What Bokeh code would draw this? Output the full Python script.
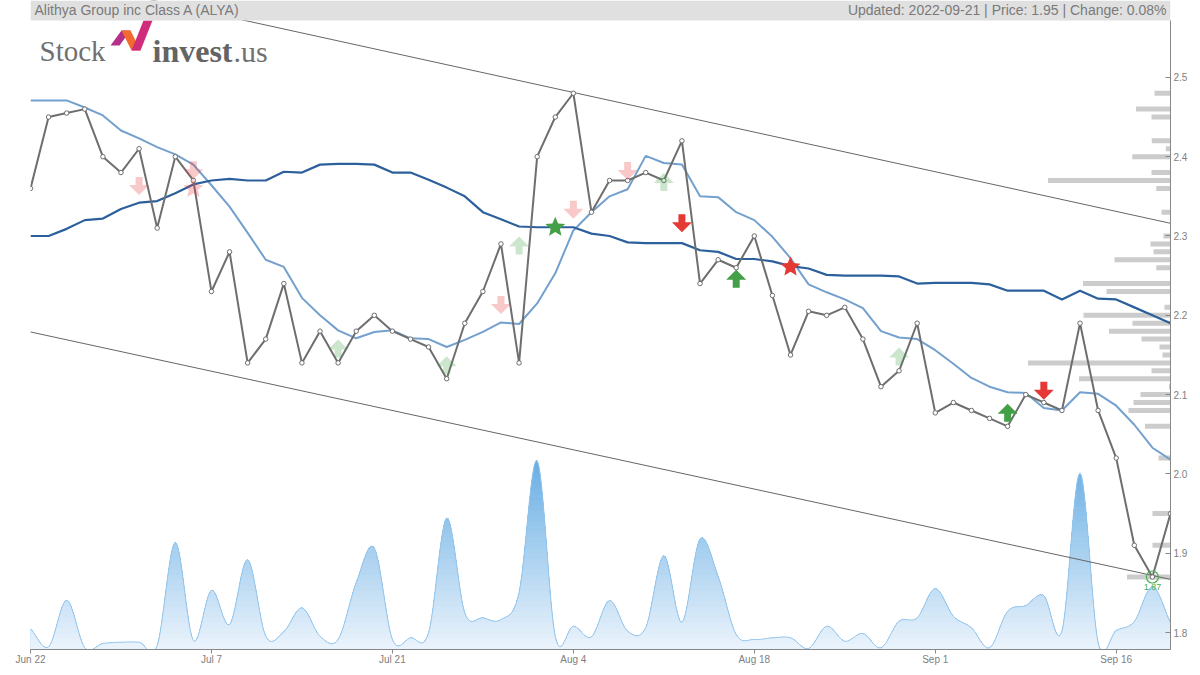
import numpy as np
from bokeh.plotting import figure
from bokeh.models import Range1d, FixedTicker, BoxAnnotation, Label
from bokeh.embed import file_html
from bokeh.resources import INLINE

# ---------------- data ----------------
title_left = "Alithya Group inc Class A (ALYA)"
title_right = "Updated: 2022-09-21 | Price: 1.95 | Change: 0.08%"

x_tick_index = [0, 10, 20, 30, 40, 50, 60]
x_tick_labels = ["Jun 22", "Jul 7", "Jul 21", "Aug 4", "Aug 18", "Sep 1", "Sep 16"]
y_ticks = [1.8, 1.9, 2.0, 2.1, 2.2, 2.3, 2.4, 2.5]
y_tick_labels = ["1.8", "1.9", "2.0", "2.1", "2.2", "2.3", "2.4", "2.5"]

price = [2.36, 2.45, 2.455, 2.46, 2.40, 2.38, 2.41, 2.31, 2.40, 2.37,
         2.23, 2.28, 2.14, 2.17, 2.24, 2.14, 2.18, 2.14, 2.18, 2.20,
         2.18, 2.17, 2.16, 2.12, 2.19, 2.23, 2.29, 2.14, 2.40, 2.45,
         2.48, 2.33, 2.37, 2.37, 2.38, 2.37, 2.42, 2.24, 2.27, 2.26,
         2.30, 2.225, 2.15, 2.205, 2.20, 2.21, 2.17, 2.11, 2.13, 2.19,
         2.077, 2.09, 2.08, 2.07, 2.06, 2.10, 2.09, 2.08, 2.19, 2.08,
         2.02, 1.91, 1.87, 1.95]

ma_short = [2.471, 2.471, 2.471, 2.462, 2.452, 2.433, 2.423, 2.412, 2.403, 2.390,
            2.364, 2.337, 2.304, 2.270, 2.261, 2.222, 2.200, 2.181, 2.171, 2.179,
            2.181, 2.171, 2.170, 2.160, 2.169, 2.179, 2.191, 2.189, 2.215, 2.253,
            2.307, 2.330, 2.350, 2.359, 2.401, 2.392, 2.390, 2.350, 2.349, 2.330,
            2.320, 2.299, 2.272, 2.239, 2.229, 2.220, 2.209, 2.180, 2.172, 2.170,
            2.156, 2.139, 2.121, 2.110, 2.103, 2.102, 2.083, 2.080, 2.103, 2.101,
            2.086, 2.062, 2.033, 2.018]

ma_long = [2.300, 2.300, 2.309, 2.320, 2.322, 2.334, 2.342, 2.344, 2.354, 2.365,
           2.370, 2.372, 2.370, 2.370, 2.381, 2.380, 2.390, 2.391, 2.391, 2.390,
           2.380, 2.380, 2.371, 2.361, 2.350, 2.330, 2.321, 2.312, 2.311, 2.311,
           2.311, 2.303, 2.300, 2.292, 2.291, 2.291, 2.291, 2.282, 2.280, 2.271,
           2.271, 2.268, 2.262, 2.259, 2.251, 2.250, 2.250, 2.250, 2.249, 2.240,
           2.241, 2.241, 2.241, 2.239, 2.231, 2.231, 2.231, 2.220, 2.231, 2.221,
           2.220, 2.210, 2.200, 2.190]

volume = [20.7, 2.7, 49.3, 1.7, 6.0, 7.3, 7.3, 4.0, 107.3, 9.0,
          59.3, 25.0, 90.0, 13.3, 17.7, 41.7, 13.3, 10.0, 67.0, 101.7,
          10.0, 11.7, 16.7, 131.7, 36.7, 31.7, 30.0, 57.0, 189.3, 13.0,
          23.3, 12.7, 49.0, 18.3, 22.0, 94.0, 27.3, 110.7, 73.3, 15.0,
          10.0, 11.7, 11.7, 1.0, 23.3, 8.3, 16.0, 1.7, 28.3, 31.7,
          61.0, 33.3, 21.7, 1.7, 38.3, 44.0, 54.0, 18.3, 176.7, 6.7,
          19.0, 28.0, 63.0, 26.7]

profile_price = [2.48, 2.46, 2.45, 2.42, 2.41, 2.40, 2.38, 2.37, 2.36, 2.33,
                 2.30, 2.29, 2.28, 2.27, 2.26, 2.24, 2.23, 2.21, 2.20, 2.19,
                 2.18, 2.17, 2.16, 2.15, 2.14, 2.13, 2.12, 2.11, 2.10, 2.09,
                 2.08, 2.06, 2.02, 1.95, 1.91, 1.87]
profile_volume = [16, 34.5, 19, 18.7, 4.7, 38.3, 19, 122.5, 14.3, 9,
                  7, 20, 17, 56, 14.3, 87.5, 64, 6, 87, 38,
                  61.5, 29, 11, 8, 142.5, 19, 91.5, 1.5, 30, 37,
                  42, 25.5, 12, 18, 18, 43.5]

trend_index = [0, 63]
trend_upper = [2.631, 2.316]
trend_lower = [2.179, 1.867]

signal_index = [6, 9, 9, 17, 23, 26, 27, 29, 30, 33, 35, 36, 39, 42, 48, 54, 56]
signal_price = [2.363, 2.383, 2.360, 2.158, 2.137, 2.213, 2.288, 2.311, 2.333, 2.382,
                2.368, 2.316, 2.246, 2.261, 2.148, 2.077, 2.105]
signal_type = ["sell", "sell", "star_sell", "buy", "buy", "sell", "buy", "star_buy", "sell", "sell",
               "buy", "sell", "buy", "star_sell", "buy", "buy", "sell"]
signal_strong = [False, False, False, False, False, False, False, True, False, False,
                 False, True, True, True, False, True, True]

low_index = 62
low_price = 1.87
low_label = "1.87"

logo_parts = ["Stock", "invest", ".us"]

# ---------------- layout ----------------
W, H = 1192, 667
FRAME_W, FRAME_H = 1140, 650
PAGE_LEFT, PAGE_TOP = 30, 0          # frame position in the picture
Y0 = 1.8 - 17 / 794.29
Y1 = 2.5 + 77 / 794.29
X0, X1 = 0, len(price) - 1
DY = (Y1 - Y0) / FRAME_H
DX = (X1 - X0) / FRAME_W


def x_at(px):
    return X0 + (px - PAGE_LEFT) * DX


def y_at(py):
    return Y1 - (py - PAGE_TOP) * DY


Y_BAR = y_at(20)

p = figure(width=W, height=H, x_range=Range1d(X0, X1), y_range=Range1d(Y0, Y1),
           y_axis_location="right", toolbar_location=None, output_backend="svg",
           min_border_left=30, min_border_right=22, min_border_top=0, min_border_bottom=17)
p.outline_line_color = None
p.grid.visible = False
p.background_fill_color = "white"
p.border_fill_color = "white"
p.extra_y_ranges = {"vol": Range1d(0, FRAME_H)}
p.extra_x_ranges = {"prof": Range1d(FRAME_W, 0)}

idx = np.arange(len(price))


def catmull_rom(xv, yv, steps=12):
    x = np.asarray(xv, float)
    y = np.asarray(yv, float)
    n = len(y)
    m = np.zeros(n)
    m[1:-1] = (y[2:] - y[:-2]) / 2.0
    m[0] = y[1] - y[0]
    m[-1] = y[-1] - y[-2]
    t = np.linspace(0, 1, steps + 1)[:-1]
    h00 = 2 * t**3 - 3 * t**2 + 1
    h10 = t**3 - 2 * t**2 + t
    h01 = -2 * t**3 + 3 * t**2
    h11 = t**3 - t**2
    xs, ys = [], []
    for i in range(n - 1):
        xs.extend(x[i] + t * (x[i + 1] - x[i]))
        ys.extend(h00 * y[i] + h10 * m[i] + h01 * y[i + 1] + h11 * m[i + 1])
    xs.append(x[-1])
    ys.append(y[-1])
    return np.array(xs), np.array(ys)


# volume area with vertical gradient (stacked bands)
vx, vy = catmull_rom(idx, volume)
c_lo = np.array([236, 244, 252])
c_hi = np.array([104, 174, 228])
vmax = 192.0
N = 36
for k in reversed(range(N)):
    top = (k + 1) * vmax / N
    f = (k + 0.5) / N
    c = (c_lo + (c_hi - c_lo) * f).astype(int)
    p.varea(x=vx, y1=0, y2=np.clip(vy, 0, top), fill_color="#%02x%02x%02x" % tuple(c),
            y_range_name="vol")
p.line(vx, vy, line_color="#93c5ec", line_width=1, y_range_name="vol")

# volume profile
p.hbar(y=profile_price, left=0, right=profile_volume, height=5 * DY,
       fill_color="#cccccc", line_color=None, x_range_name="prof")

# trend channel
p.line(trend_index, trend_upper, line_color="#666666", line_width=1)
p.line(trend_index, trend_lower, line_color="#666666", line_width=1)

# moving averages
p.line(idx, ma_short, line_color="#74a0ce", line_width=2)
p.line(idx, ma_long, line_color="#2c609c", line_width=2.2)

# price
p.line(idx, price, line_color="#6e6e6e", line_width=2)
p.scatter(idx, price, marker="circle", size=4.5, fill_color="white",
          line_color="#6e6e6e", line_width=1)

# low marker
p.scatter([low_index], [low_price], marker="circle", size=12, fill_color=None,
          line_color="#4caf50", line_width=1.2)

# signals
ARROW_DOWN = [(-3.5, -9), (3.5, -9), (3.5, -1), (10, -1), (0, 9), (-10, -1), (-3.5, -1)]
ARROW_UP = [(px, -py) for px, py in ARROW_DOWN]
STAR = []
for k in range(10):
    ang = -np.pi / 2 + k * np.pi / 5
    r = 10.5 if k % 2 == 0 else 4.8
    STAR.append((r * np.cos(ang), r * np.sin(ang)))

sx, sy, scol, salpha = [], [], [], []
for i, pr, tp, strong in zip(signal_index, signal_price, signal_type, signal_strong):
    if tp == "sell":
        shape, col = ARROW_DOWN, "#e53935"
    elif tp == "buy":
        shape, col = ARROW_UP, "#43a047"
    elif tp == "star_sell":
        shape, col = STAR, "#e53935"
    else:
        shape, col = STAR, "#43a047"
    sx.append([i + a * DX for a, b in shape])
    sy.append([pr - b * DY for a, b in shape])
    scol.append(col)
    salpha.append(1.0 if strong else 0.27)
p.patches(xs=sx, ys=sy, fill_color=scol, fill_alpha=salpha, line_color=None)

# axes
p.xaxis.ticker = FixedTicker(ticks=x_tick_index)
p.xaxis.major_label_overrides = {int(k): v for k, v in zip(x_tick_index, x_tick_labels)}
p.xaxis.axis_line_color = "#888888"
p.xaxis.major_tick_line_color = "#888888"
p.xaxis.major_tick_out = 4
p.xaxis.major_tick_in = 0
p.xaxis.minor_tick_line_color = None
p.xaxis.major_label_standoff = 0
p.xaxis.major_label_text_font = "Liberation Sans"
p.xaxis.major_label_text_font_size = "10px"
p.xaxis.major_label_text_color = "#808080"

p.yaxis.ticker = FixedTicker(ticks=y_ticks)
p.yaxis.major_label_overrides = {float(k): v for k, v in zip(y_ticks, y_tick_labels)}
p.yaxis.bounds = (Y0, Y_BAR)
p.yaxis.axis_line_color = "#888888"
p.yaxis.major_tick_line_color = "#888888"
p.yaxis.major_tick_in = 5
p.yaxis.major_tick_out = 0
p.yaxis.minor_tick_line_color = None
p.yaxis.major_label_standoff = 3
p.yaxis.major_label_text_font = "Liberation Sans"
p.yaxis.major_label_text_font_size = "10px"
p.yaxis.major_label_text_color = "#808080"

# title bar
p.add_layout(BoxAnnotation(left=X0, right=X1, bottom=Y_BAR, top=Y1,
                           fill_color="#e0e0e0", fill_alpha=1.0, line_color=None))
p.add_layout(Label(x=X0, y=y_at(10), x_offset=4, text=title_left, text_baseline="middle",
                   text_align="left", text_font="Liberation Sans", text_font_size="14px",
                   text_color="#7a7a7a"))
p.add_layout(Label(x=X1, y=y_at(10), x_offset=-4, text=title_right, text_baseline="middle",
                   text_align="right", text_font="Liberation Sans", text_font_size="14px",
                   text_color="#7a7a7a"))

# low label
p.add_layout(Label(x=low_index, y=low_price - 10.5 * DY, text=low_label, text_align="center",
                   text_baseline="middle", text_font="Liberation Sans", text_font_size="9px",
                   text_color="#4caf50"))

# logo
p.add_layout(Label(x=x_at(39), y=y_at(51), text=logo_parts[0], text_baseline="alphabetic",
                   text_font="Liberation Serif", text_font_size="29px", text_color="#707070"))
p.add_layout(Label(x=x_at(152), y=y_at(51), text=logo_parts[1], text_baseline="alphabetic",
                   text_font="Liberation Serif", text_font_size="32px", text_font_style="bold",
                   text_color="#646464"))
p.add_layout(Label(x=x_at(233), y=y_at(51), text=logo_parts[2], text_baseline="alphabetic",
                   text_font="Liberation Serif", text_font_size="30px", text_color="#707070"))
icon = [([(110, 45), (121, 30), (130, 30), (119, 45)], "#b4308a"),
        ([(121, 30), (130, 30), (140, 50), (131, 50)], "#f26b2c"),
        ([(131, 50), (140, 50), (152, 20), (143, 20)], "#d02c7c")]
p.patches(xs=[[x_at(a) for a, b in poly] for poly, c in icon],
          ys=[[y_at(b) for a, b in poly] for poly, c in icon],
          fill_color=[c for poly, c in icon], line_color=None)

open("out.html", "w").write(file_html(p, INLINE))
